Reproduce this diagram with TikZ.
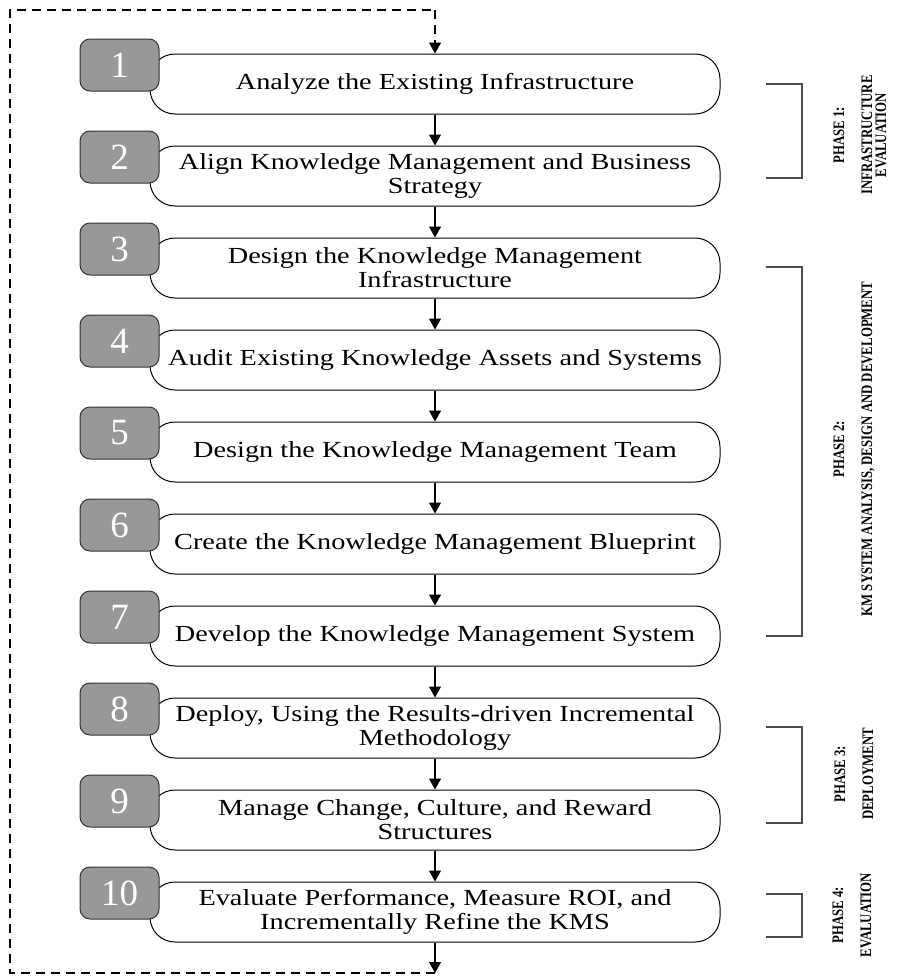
\documentclass[tikz,border=0pt]{standalone}
\usepackage{fontspec}
\setmainfont{Liberation Serif}
\newfontfamily\stepfont[FakeStretch=1.23]{Liberation Serif}
\newfontfamily\phasefont[FakeStretch=0.8]{Liberation Serif}
\usetikzlibrary{arrows.meta}
\definecolor{numgray}{RGB}{152,152,152}

\begin{document}
\begin{tikzpicture}[x=1pt,y=1pt,yscale=-1,xscale=1,
  stepbox/.style={draw, rounded corners=25pt, minimum width=570pt, minimum height=60pt, fill=white, align=center, inner sep=0pt, line width=1pt, font=\stepfont\fontsize{23}{24}\selectfont},
  numbox/.style={draw=black!80, fill=numgray, rounded corners=10pt, minimum width=79pt, minimum height=52pt, text=white, line width=1pt, font=\fontsize{37}{37}\selectfont},
  flow/.style={-{Triangle[length=11pt,width=12pt]}, line width=1.3pt},
  loopline/.style={dash pattern=on 9pt off 6pt, line width=1.3pt},
  brace/.style={draw=black!70, line width=1.3pt},
  phasetxt/.style={rotate=90, align=center, inner sep=0pt, font=\phasefont\bfseries\fontsize{16}{14}\selectfont}]
\useasboundingbox (0,0) rectangle (898,977);

%Steps with their numbers
\foreach \i/\txt in {1/{Analyze the Existing Infrastructure},
    2/{Align Knowledge Management and Business\\Strategy},
    3/{Design the Knowledge Management\\Infrastructure},
    4/{Audit Existing Knowledge Assets and Systems},
    5/{Design the Knowledge Management Team},
    6/{Create the Knowledge Management Blueprint},
    7/{Develop the Knowledge Management System},
    8/{Deploy, Using the Results-driven Incremental\\Methodology},
    9/{Manage Change, Culture, and Reward\\Structures},
    10/{Evaluate Performance, Measure ROI, and\\Incrementally Refine the KMS}}
{
  \node[stepbox] (step\i) at (435,{84+92*(\i-1)}) {\txt};
  \node[numbox] (num\i) at (119.5,{65+92*(\i-1)}) {\i};
}

%Arrows between steps
\foreach \i [evaluate=\i as \j using int(\i+1)] in {1,...,9}
  \draw[flow] (step\i.south) -- (step\j.north);

%Feedback loop
\coordinate (looptop) at (435,10);
\coordinate (loopbot) at (435,973);
\draw[flow] (step10.south) -- (loopbot);
\draw[loopline] (loopbot) -- (10,973) -- (10,10) -- (looptop);
\draw[flow, loopline] (looptop) -- (step1.north);

%Phase brackets
\foreach \top/\bot in {84/178, 267/636, 727/823, 894/937}
  \draw[brace] (766,\top) -- (802,\top) -- (802,\bot) -- (766,\bot);

% Text Node
\node[phasetxt] (phase1) at (860,135) {PHASE 1:\\[14pt]INFRASTRUCTURE\\EVALUATION};
% Text Node
\node[phasetxt] (phase2) at (854,449) {PHASE 2:\\[14pt]KM SYSTEM ANALYSIS, DESIGN AND DEVELOPMENT};
% Text Node
\node[phasetxt] (phase3) at (854,774) {PHASE 3:\\[14pt]DEPLOYMENT};
% Text Node
\node[phasetxt] (phase4) at (852,915) {PHASE 4:\\[14pt]EVALUATION};

\end{tikzpicture}
\end{document}
